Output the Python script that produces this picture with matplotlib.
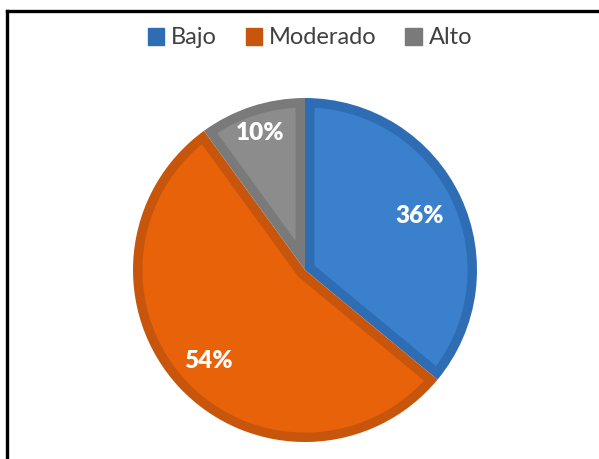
import numpy as np
import matplotlib.pyplot as plt
from matplotlib.patches import Patch, Polygon
from matplotlib.lines import Line2D

categories = ["Bajo", "Moderado", "Alto"]
values = [36, 54, 10]
fill_colors = ["#3A80CC", "#E8620A", "#8C8C8C"]
edge_colors = ["#2E6DB4", "#C8550C", "#7A7A7A"]
label_dist = [0.74, 0.77, 0.84]

plt.rcParams['font.family'] = ['Lato', 'DejaVu Sans']


def inset_wedge(t1, t2, r, d):
    # light inner part of a wedge, shrunk by d on every side
    span = np.deg2rad(t2 - t1)
    bis = np.deg2rad((t1 + t2) / 2)
    c = d / np.sin(span / 2)
    corner = (c * np.cos(bis), c * np.sin(bis))
    rr = r - d
    delta = np.rad2deg(np.arcsin(d / rr))
    ang = np.deg2rad(np.linspace(t1 + delta, t2 - delta, 200))
    pts = [corner] + list(zip(rr * np.cos(ang), rr * np.sin(ang)))
    return pts


fig = plt.figure(figsize=(5.99, 4.59), dpi=100)
ax = fig.add_axes([133 / 599, 17 / 459, 344 / 599, 344 / 459])

wedges, _ = ax.pie(values, colors=edge_colors, startangle=90, counterclock=False,
                   radius=1.0)
for w, fc in zip(wedges, fill_colors):
    w.set_linewidth(0)
    ax.add_patch(Polygon(inset_wedge(w.theta1, w.theta2, 1.0, 0.055),
                         closed=True, facecolor=fc, edgecolor="none"))

# percentage labels
start = 90
total = sum(values)
for v, d in zip(values, label_dist):
    mid = np.deg2rad(start - 360 * v / total / 2)
    ax.text(d * np.cos(mid), d * np.sin(mid), f"{v}%", color="white",
            fontsize=17.5, fontweight="heavy", ha="center", va="center")
    start -= 360 * v / total

ax.set_xlim(-1, 1)
ax.set_ylim(-1, 1)
ax.set_aspect("equal")
ax.axis("off")

handles = [Patch(facecolor=c, edgecolor=c) for c in edge_colors]
leg = fig.legend(handles, categories, loc="center",
                 bbox_to_anchor=(310 / 599, 1 - 38 / 459),
                 ncol=3, frameon=False, fontsize=17, handlelength=0.7, handleheight=0.7,
                 handletextpad=0.3, columnspacing=1.2)
for t in leg.get_texts():
    t.set_color("#404040")

# frame around the chart
fig.add_artist(Line2D([7 / 599, 1.0], [1 - 11 / 459, 1 - 11 / 459], color="black",
                      lw=2.4, transform=fig.transFigure))
fig.add_artist(Line2D([7 / 599, 7 / 599], [1 - 11 / 459, 0.0], color="black",
                      lw=2.4, transform=fig.transFigure))

fig.savefig("out.png", dpi=100)
